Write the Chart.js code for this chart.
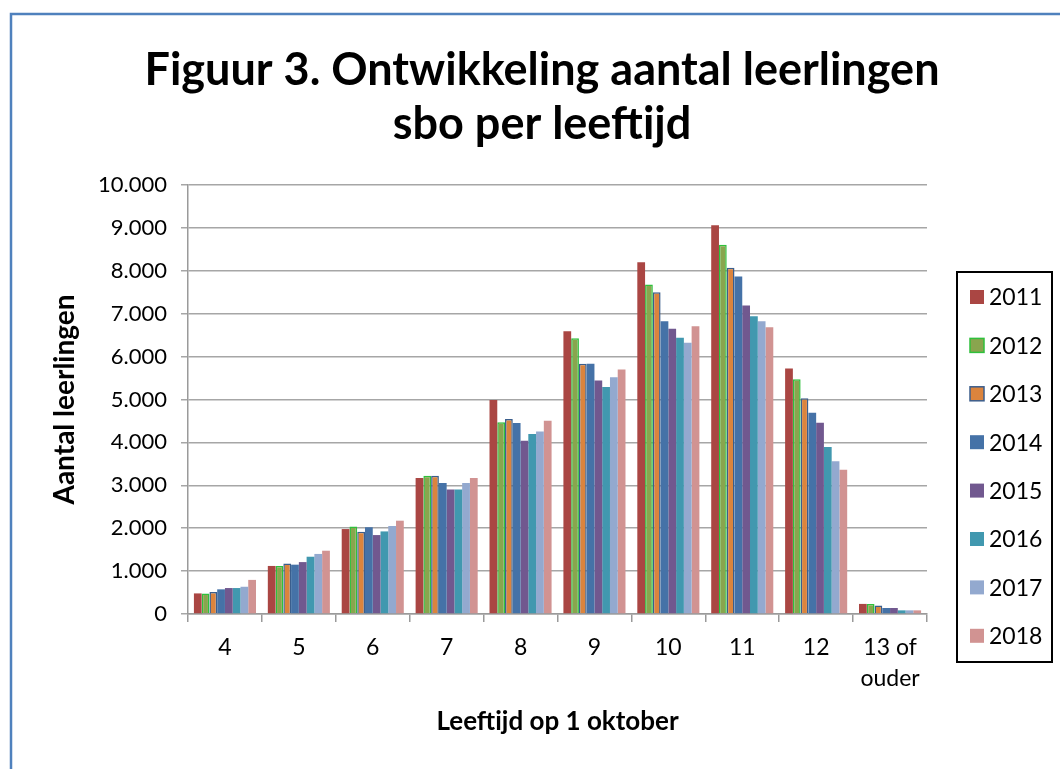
<!DOCTYPE html>
<html lang="nl">
<head>
    <meta charset="UTF-8">
    <title>Figuur 3. Ontwikkeling aantal leerlingen sbo per leeftijd</title>
    <script src="https://cdn.jsdelivr.net/npm/chart.js"></script>
    <style>
        html, body { margin: 0; padding: 0; background: #fff; }
        #wrap { width: 1060px; height: 769px; }
    </style>
</head>
<body>
    <div id="wrap"><canvas id="leerlingenChart" width="1060" height="769"></canvas></div>

    <script>
        // Leeftijdscategorieen (x-as)
        const leeftijden = ['4', '5', '6', '7', '8', '9', '10', '11', '12', ['13 of', 'ouder']];

        // Aantal leerlingen per jaar
        const jaren = ['2011', '2012', '2013', '2014', '2015', '2016', '2017', '2018'];
        const j2011 = [480, 1120, 1980, 3170, 4990, 6590, 8200, 9060, 5720, 235];
        const j2012 = [480, 1120, 2040, 3225, 4470, 6430, 7680, 8610, 5470, 235];
        const j2013 = [515, 1180, 1920, 3225, 4545, 5835, 7500, 8070, 5030, 200];
        const j2014 = [575, 1150, 2020, 3055, 4450, 5835, 6825, 7870, 4690, 140];
        const j2015 = [605, 1210, 1840, 2905, 4040, 5445, 6650, 7190, 4460, 140];
        const j2016 = [605, 1335, 1925, 2905, 4195, 5290, 6440, 6940, 3890, 85];
        const j2017 = [635, 1400, 2050, 3055, 4255, 5520, 6320, 6825, 3560, 85];
        const j2018 = [795, 1475, 2175, 3170, 4505, 5700, 6710, 6685, 3360, 85];

        const kleuren = ['#AA4643', '#89A54E', '#DB843D', '#4572A7', '#71588F', '#4198AF', '#93A9CF', '#D19392'];
        const randKleuren = ['#AA4643', '#2FC03C', '#3B5E8C', '#4572A7', '#71588F', '#4198AF', '#93A9CF', '#D19392'];
        const randDikte = [0, 1.5, 1.5, 0, 0, 0, 0, 0];

        const reeksen = [j2011, j2012, j2013, j2014, j2015, j2016, j2017, j2018];

        // 10.000 notatie met punt als duizendtalscheiding
        function metPunt(v) {
            return String(v).replace(/\B(?=(\d{3})+(?!\d))/g, '.');
        }

        // Witte achtergrond en blauw kader
        const achtergrond = {
            id: 'achtergrond',
            beforeDraw(chart) {
                const ctx = chart.ctx;
                ctx.save();
                ctx.fillStyle = '#fff';
                ctx.fillRect(0, 0, chart.width, chart.height);
                ctx.strokeStyle = '#4F81BD';
                ctx.lineWidth = 2.5;
                ctx.strokeRect(11, 14, 1200, 900);
                ctx.restore();
            }
        };

        // Legenda met zwarte rand, rechts van de grafiek
        const legendaKader = {
            id: 'legendaKader',
            afterDraw(chart) {
                const ctx = chart.ctx;
                ctx.save();
                ctx.strokeStyle = '#000';
                ctx.lineWidth = 2;
                ctx.strokeRect(957, 272, 95, 390);
                ctx.font = '23px Lato';
                ctx.textBaseline = 'middle';
                chart.data.datasets.forEach((ds, i) => {
                    const y = 297 + i * 48.4;
                    ctx.fillStyle = ds.backgroundColor;
                    ctx.fillRect(970, y - 7, 14, 14);
                    if (ds.borderWidth) {
                        ctx.strokeStyle = ds.borderColor;
                        ctx.lineWidth = 1.5;
                        ctx.strokeRect(970, y - 7, 14, 14);
                    }
                    ctx.fillStyle = '#000';
                    ctx.fillText(ds.label, 989, y + 1);
                });
                ctx.restore();
            }
        };

        new Chart(document.getElementById('leerlingenChart'), {
            type: 'bar',
            data: {
                labels: leeftijden,
                datasets: jaren.map((jaar, i) => ({
                    label: jaar,
                    data: reeksen[i],
                    backgroundColor: kleuren[i],
                    borderColor: randKleuren[i],
                    borderWidth: randDikte[i],
                    categoryPercentage: 0.84,
                    barPercentage: 1.0
                }))
            },
            options: {
                responsive: false,
                animation: false,
                layout: { padding: { left: 24, right: 0, top: 0, bottom: 0 } },
                plugins: {
                    legend: { display: false },
                    tooltip: { enabled: false },
                    title: {
                        display: true,
                        text: ['Figuur 3. Ontwikkeling aantal leerlingen', 'sbo per leeftijd'],
                        color: '#000',
                        font: { family: 'Lato', size: 45, weight: 'bold', lineHeight: 1.2 },
                        padding: { top: 43, bottom: 34 }
                    }
                },
                scales: {
                    x: {
                        afterFit(scale) { scale.height = 155; },
                        grid: {
                            offset: true,
                            drawOnChartArea: false,
                            drawTicks: true,
                            tickLength: 8,
                            color: '#9a9a9a',
                            lineWidth: 1.5
                        },
                        border: { color: '#9a9a9a', width: 1.5 },
                        ticks: {
                            color: '#000',
                            padding: 10,
                            maxRotation: 0,
                            font: { family: 'Lato', size: 23, lineHeight: 1.36 }
                        },
                        title: {
                            display: true,
                            text: 'Leeftijd op 1 oktober',
                            color: '#000',
                            font: { family: 'Lato', size: 26, weight: 'bold', lineHeight: 1.2 },
                            padding: { top: 0, bottom: 32 }
                        }
                    },
                    y: {
                        min: 0,
                        max: 10000,
                        afterFit(scale) { scale.width = 164; },
                        grid: {
                            color: '#a6a6a6',
                            lineWidth: 1.5,
                            tickLength: 7
                        },
                        border: { color: '#9a9a9a', width: 1.5 },
                        ticks: {
                            stepSize: 1000,
                            color: '#000',
                            padding: 14,
                            font: { family: 'Lato', size: 22 },
                            callback: v => metPunt(v)
                        },
                        title: {
                            display: true,
                            text: 'Aantal leerlingen',
                            color: '#000',
                            font: { family: 'Lato', size: 28, weight: 'bold', lineHeight: 1.2 },
                            padding: { top: 24, bottom: 0 }
                        }
                    },
                    // lege as rechts: ruimte voor de legenda
                    ruimte: {
                        type: 'linear',
                        position: 'right',
                        afterFit(scale) { scale.width = 133; },
                        grid: { display: false },
                        border: { display: false },
                        ticks: { display: false }
                    }
                }
            },
            plugins: [achtergrond, legendaKader]
        });
    </script>
</body>
</html>
